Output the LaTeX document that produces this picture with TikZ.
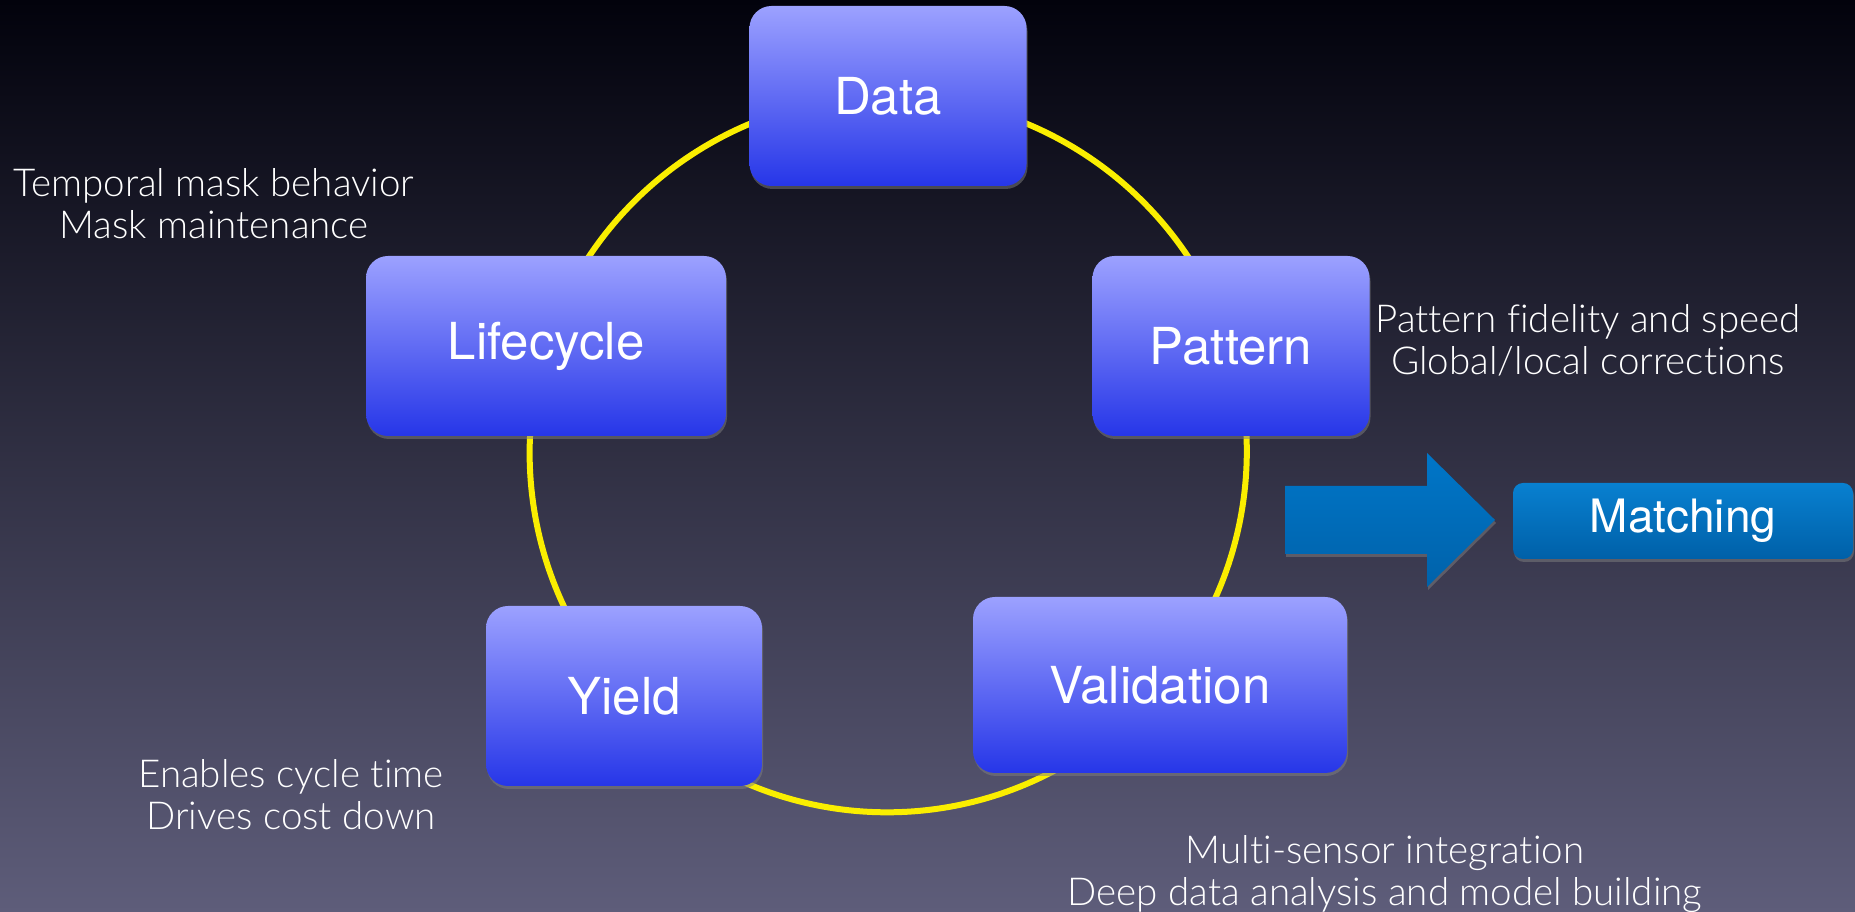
\documentclass[tikz,border=0pt]{standalone}
\usepackage{fontspec}
\setmainfont{TeX Gyre Heros}
\newfontfamily\thinfont{Lato Light}[Ligatures=NoCommon]
\usetikzlibrary{shadows}

\pgfdeclarelayer{background}
\pgfsetlayers{background,main}

\definecolor{slidetop}{RGB}{2,2,12}
\definecolor{slidemid}{RGB}{32,31,52}
\definecolor{slidebottom}{RGB}{94,93,122}
\definecolor{stagetop}{RGB}{156,161,255}
\definecolor{stagebottom}{RGB}{38,54,232}
\definecolor{ringyellow}{RGB}{250,238,0}
\definecolor{matchtop}{RGB}{8,128,208}
\definecolor{matchbottom}{RGB}{0,96,168}
\definecolor{arrowtop}{RGB}{0,118,200}
\definecolor{arrowbottom}{RGB}{0,98,170}

\begin{document}
\begin{tikzpicture}[x=1pt, y=1pt,
    stage/.style={rounded corners=22pt, top color=stagetop, bottom color=stagebottom,
                  minimum height=180pt, text=white, font=\fontsize{51}{60}\selectfont,
                  drop shadow={shadow xshift=1pt, shadow yshift=-3pt, opacity=.5}},
    ring/.style={draw=ringyellow, line width=6pt},
    note/.style={text=white, align=center, font=\thinfont\fontsize{38.5}{42}\selectfont},
    outcome/.style={rounded corners=10pt, top color=matchtop, bottom color=matchbottom,
                    minimum width=340pt, minimum height=76pt, text=white,
                    font=\fontsize{46}{55}\selectfont,
                    drop shadow={shadow xshift=1pt, shadow yshift=-3pt, opacity=.5}}]
    \useasboundingbox (0,0) rectangle (1855,912);

    % the five stages sit on one circle round (888,457)
    \node[stage, minimum width=277pt] (data)       at (888,816)  {Data};
    \node[stage, minimum width=360pt] (lifecycle)  at (546,566)  {Lifecycle};
    \node[stage, minimum width=277pt] (pattern)    at (1231,566) {Pattern};
    \node[stage, minimum width=276pt] (yield)      at (624,216)  {Yield};
    \node[stage, minimum width=374pt, minimum height=176pt] (validation) at (1160,227) {Validation};

    \node[outcome] (matching) at (1683,391) {Matching};

    % big arrow into the matching step
    \shade[top color=arrowtop, bottom color=arrowbottom,
           drop shadow={shadow xshift=1pt, shadow yshift=-3pt, opacity=.5}]
        (1285,426) -- (1427,426) -- (1427,459) -- (1495,392)
        -- (1427,325) -- (1427,358) -- (1285,358) -- cycle;

    \node[note] (lifenote)  at (214,708)  {Temporal mask behavior\\Mask maintenance};
    \node[note] (patnote)   at (1588,572) {Pattern fidelity and speed\\Global/local corrections};
    \node[note] (yieldnote) at (291,117)  {Enables cycle time\\Drives cost down};
    \node[note] (valnote)   at (1385,38)  {Multi-sensor integration\\Deep data analysis and model building};

    \begin{pgfonlayer}{background}
        \shade[top color=slidetop, middle color=slidemid, bottom color=slidebottom]
            (0,0) rectangle (1855,912);
        % ring arcs, centre to centre, hidden under the boxes
        \draw[ring] (data.center)       to[bend right=36.2, looseness=0.94] (lifecycle.center);
        \draw[ring] (lifecycle.center)  to[bend right=30,   looseness=0.91] (yield.center);
        \draw[ring] (yield.center)      to[bend right=48.7, looseness=1.03] (validation.center);
        \draw[ring] (validation.center) to[bend right=28.9, looseness=0.91] (pattern.center);
        \draw[ring] (pattern.center)    to[bend right=36.2, looseness=0.94] (data.center);
    \end{pgfonlayer}
\end{tikzpicture}
\end{document}
